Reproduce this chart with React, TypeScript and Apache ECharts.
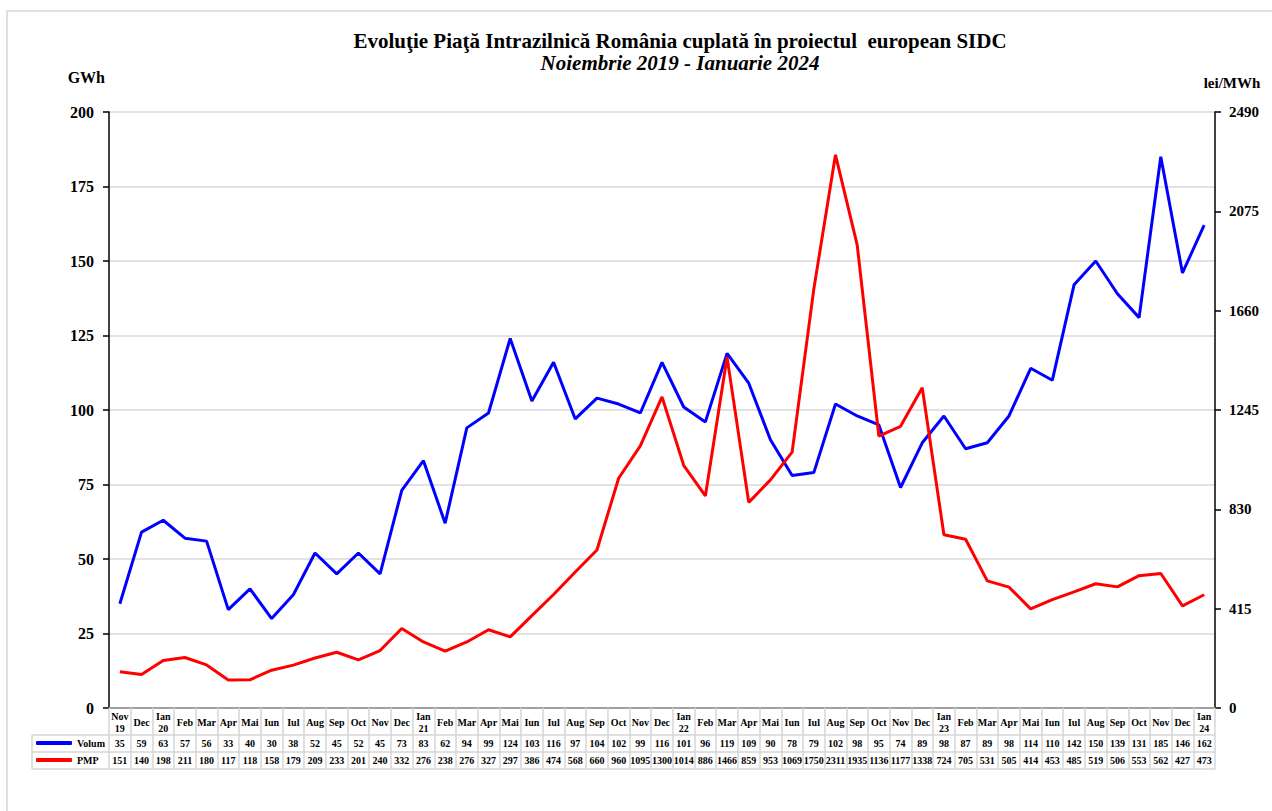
import React, { useEffect, useRef } from "react";
import * as echarts from "echarts";

const months = [
  "Nov\n19", "Dec", "Ian\n20", "Feb", "Mar", "Apr", "Mai", "Iun", "Iul", "Aug", "Sep", "Oct", "Nov", "Dec",
  "Ian\n21", "Feb", "Mar", "Apr", "Mai", "Iun", "Iul", "Aug", "Sep", "Oct", "Nov", "Dec",
  "Ian\n22", "Feb", "Mar", "Apr", "Mai", "Iun", "Iul", "Aug", "Sep", "Oct", "Nov", "Dec",
  "Ian\n23", "Feb", "Mar", "Apr", "Mai", "Iun", "Iul", "Aug", "Sep", "Oct", "Nov", "Dec",
  "Ian\n24",
];

const volum = [
  35, 59, 63, 57, 56, 33, 40, 30, 38, 52, 45, 52, 45, 73,
  83, 62, 94, 99, 124, 103, 116, 97, 104, 102, 99, 116,
  101, 96, 119, 109, 90, 78, 79, 102, 98, 95, 74, 89,
  98, 87, 89, 98, 114, 110, 142, 150, 139, 131, 185, 146,
  162,
];

const pmp = [
  151, 140, 198, 211, 180, 117, 118, 158, 179, 209, 233, 201, 240, 332,
  276, 238, 276, 327, 297, 386, 474, 568, 660, 960, 1095, 1300,
  1014, 886, 1466, 859, 953, 1069, 1750, 2311, 1935, 1136, 1177, 1338,
  724, 705, 531, 505, 414, 453, 485, 519, 506, 553, 562, 427,
  473,
];

const leftTicks = { min: 0, max: 200, interval: 25 };
const rightTicks = { min: 0, max: 2490, interval: 415 };

const FONT = "Liberation Serif";

export default function App() {
  const ref = useRef<HTMLDivElement>(null);

  useEffect(() => {
    if (!ref.current) return;
    const chart = echarts.init(ref.current, null, { renderer: "svg" });

    const gridLeft = 109;
    const gridRight = 1215;
    const tableLines = [735, 752, 769];

    const tableText = { fontFamily: FONT, fontWeight: "bold" as const, fontSize: 10, color: "#000" };

    chart.setOption({
      animation: false,
      backgroundColor: "#fff",
      textStyle: { fontFamily: FONT },
      title: {
        text: "Evoluţie Piaţă Intrazilnică România cuplată în proiectul  european SIDC",
        subtext: "Noiembrie 2019 - Ianuarie 2024",
        left: 680,
        top: 30,
        padding: 0,
        textAlign: "center",
        itemGap: 1,
        textStyle: { fontFamily: FONT, fontWeight: "bold", fontSize: 21, color: "#000" },
        subtextStyle: { fontFamily: FONT, fontWeight: "bold", fontStyle: "italic", fontSize: 21, color: "#000" },
      },
      legend: {
        orient: "vertical",
        left: 36,
        top: 735,
        padding: 0,
        icon: "roundRect",
        itemWidth: 36,
        itemHeight: 4,
        itemGap: 1,
        textStyle: { ...tableText, lineHeight: 16 },
        data: ["Volum", "PMP"],
      },
      grid: { left: gridLeft, right: 1272 - gridRight, top: 112, bottom: 103 },
      xAxis: [
        {
          type: "category",
          data: months,
          position: "bottom",
          boundaryGap: true,
          axisLine: { onZero: false, lineStyle: { color: "#a0a0a0", width: 2 } },
          axisTick: { show: true, interval: 0, length: 61, lineStyle: { color: "#d6d6d6", width: 1.5 } },
          axisLabel: { ...tableText, interval: 0, margin: 14, verticalAlign: "middle", lineHeight: 12 },
          splitLine: { show: false },
        },
        {
          type: "category",
          data: volum.map(String),
          position: "bottom",
          offset: 35,
          axisLine: { show: false, onZero: false },
          axisTick: { show: false },
          axisLabel: { ...tableText, interval: 0, margin: 0, verticalAlign: "middle" },
        },
        {
          type: "category",
          data: pmp.map(String),
          position: "bottom",
          offset: 52,
          axisLine: { show: false, onZero: false },
          axisTick: { show: false },
          axisLabel: { ...tableText, interval: 0, margin: 0, verticalAlign: "middle" },
        },
      ],
      yAxis: [
        {
          type: "value",
          position: "left",
          ...leftTicks,
          name: "GWh",
          nameLocation: "end",
          nameGap: 35,
          nameTextStyle: {
            fontFamily: FONT, fontWeight: "bold", fontSize: 16, color: "#000",
            align: "right", verticalAlign: "middle", padding: [0, 4, 0, 0],
          },
          axisLine: { show: true, lineStyle: { color: "#000", width: 1.5 } },
          axisTick: { show: true, length: 6, lineStyle: { color: "#000", width: 1.5 } },
          axisLabel: { fontFamily: FONT, fontWeight: "bold", fontSize: 16, color: "#000", margin: 15 },
          splitLine: { show: true, lineStyle: { color: "#d9d9d9", width: 1.5 } },
        },
        {
          type: "value",
          position: "right",
          ...rightTicks,
          name: "lei/MWh",
          nameLocation: "end",
          nameGap: 29,
          nameTextStyle: {
            fontFamily: FONT, fontWeight: "bold", fontSize: 15, color: "#000",
            align: "center", verticalAlign: "middle", padding: [0, 0, 0, 34],
          },
          axisLine: { show: true, lineStyle: { color: "#000", width: 1.5 } },
          axisTick: { show: true, length: 6, lineStyle: { color: "#000", width: 1.5 } },
          axisLabel: {
            fontFamily: FONT, fontWeight: "bold", fontSize: 15, color: "#000", margin: 14,
            formatter: (v: number) => String(v),
          },
          splitLine: { show: false },
        },
      ],
      series: [
        {
          name: "Volum",
          type: "line",
          data: volum,
          xAxisIndex: 0,
          yAxisIndex: 0,
          symbol: "none",
          color: "#0000ff",
          lineStyle: { color: "#0000ff", width: 3 },
          z: 3,
        },
        {
          name: "PMP",
          type: "line",
          data: pmp,
          xAxisIndex: 0,
          yAxisIndex: 1,
          symbol: "none",
          color: "#ff0000",
          lineStyle: { color: "#ff0000", width: 3 },
          z: 4,
        },
      ],
      graphic: [
        {
          type: "rect",
          shape: { x: 7, y: 11, width: 1300, height: 900 },
          style: { fill: "none", stroke: "#e0e0e0", lineWidth: 2 },
          silent: true,
          z: -10,
        },
        ...tableLines.map((y) => ({
          type: "line",
          shape: { x1: 32, y1: y, x2: gridRight, y2: y },
          style: { stroke: "#d6d6d6", lineWidth: 1.5 },
          silent: true,
          z: -1,
        })),
        {
          type: "line",
          shape: { x1: 32, y1: tableLines[0], x2: 32, y2: tableLines[2] },
          style: { stroke: "#d6d6d6", lineWidth: 1.5 },
          silent: true,
          z: -1,
        },
      ],
    });

    return () => chart.dispose();
  }, []);

  return (
    <div
      ref={ref}
      style={{ position: "fixed", left: 0, top: 0, width: 1272, height: 811, background: "#fff" }}
    />
  );
}
